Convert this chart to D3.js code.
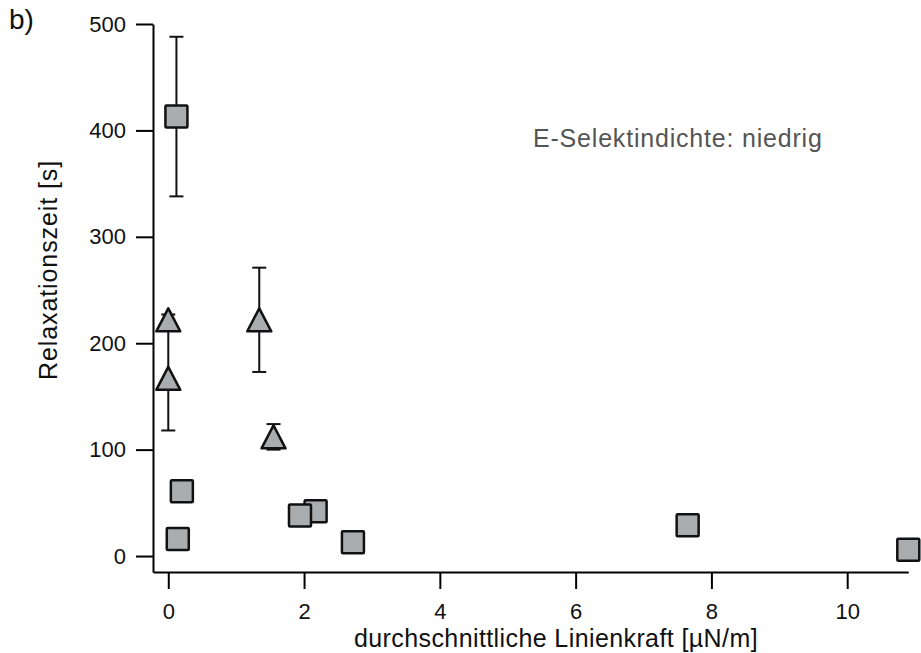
<!DOCTYPE html>
<html>
<head>
<meta charset="utf-8">
<script src="https://cdn.jsdelivr.net/npm/d3@7"></script>
<style>
  html, body { margin: 0; padding: 0; background: #fff; }
  svg { display: block; }
  text { font-family: "Liberation Sans", Arial, Helvetica, sans-serif; }
</style>
</head>
<body>
<svg id="chart" width="921" height="653"></svg>
<script>
// Relaxation time vs. mean line force, low E-selectin density
const xTicks = [0, 2, 4, 6, 8, 10];
const yTicks = [0, 100, 200, 300, 400, 500];

// Square series: force [µN/m], relaxation time [s], error (null = none)
const squareForce = [0.12, 0.20, 0.14, 2.17, 1.94, 2.72, 7.65, 10.9];
const squareTime  = [413, 61, 16, 42, 38, 13, 29, 6];
const squareErr   = [75, null, null, null, null, null, null, null];

// Triangle series
const triForce = [0.0, 0.0, 1.34, 1.55];
const triTime  = [222, 167, 222, 112];
const triErr   = [5, 49, 49, 12];

const xLabel = "durchschnittliche Linienkraft [µN/m]";
const yLabel = "Relaxationszeit [s]";
const note = "E-Selektindichte: niedrig";
const panel = "b)";

const svg = d3.select("#chart");
const fill = "#aaadaf";

const x = d3.scaleLinear().domain([-0.225, 10.9]).range([153, 908.3]);
const y = d3.scaleLinear().domain([-15, 500]).range([572, 24]);

// Axes
const gx = svg.append("g").attr("transform", "translate(0,572)")
  .call(d3.axisBottom(x).tickValues(xTicks).tickSize(17).tickSizeOuter(0).tickPadding(14));
const gy = svg.append("g").attr("transform", "translate(153,0)")
  .call(d3.axisLeft(y).tickValues(yTicks).tickSize(17).tickSizeOuter(0).tickPadding(10));

[gx, gy].forEach(g => {
  g.select(".domain").attr("stroke", "#000").attr("stroke-width", 2);
  g.selectAll(".tick line").attr("stroke", "#000").attr("stroke-width", 2);
  g.selectAll(".tick text").attr("fill", "#111").style("font-size", "22px");
});

// Error bars
function errorBars(xs, ys, es) {
  const g = svg.append("g").attr("stroke", "#111").attr("stroke-width", 2).attr("fill", "none");
  xs.forEach((xv, i) => {
    const e = es[i];
    if (e == null) return;
    const cx = x(xv), top = y(ys[i] + e), bot = y(ys[i] - e);
    g.append("line").attr("x1", cx).attr("x2", cx).attr("y1", top).attr("y2", bot);
    g.append("line").attr("x1", cx - 7).attr("x2", cx + 7).attr("y1", top).attr("y2", top);
    g.append("line").attr("x1", cx - 7).attr("x2", cx + 7).attr("y1", bot).attr("y2", bot);
  });
}

// Triangles
errorBars(triForce, triTime, triErr);
const tri = d3.range(triForce.length);
svg.append("g").selectAll("path").data(tri).join("path")
  .attr("d", i => {
    const cx = x(triForce[i]), cy = y(triTime[i]);
    return `M${cx},${cy - 11.5}L${cx + 12},${cy + 11.5}L${cx - 12},${cy + 11.5}Z`;
  })
  .attr("fill", fill).attr("stroke", "#111").attr("stroke-width", 2.5)
  .attr("stroke-linejoin", "round");

// Squares
errorBars(squareForce, squareTime, squareErr);
const sq = d3.range(squareForce.length);
svg.append("g").selectAll("rect").data(sq).join("rect")
  .attr("x", i => x(squareForce[i]) - 11)
  .attr("y", i => y(squareTime[i]) - 11)
  .attr("width", 22).attr("height", 22).attr("rx", 1)
  .attr("fill", fill).attr("stroke", "#111").attr("stroke-width", 2.5)
  .attr("stroke-linejoin", "round");

// Labels
svg.append("text").attr("x", 556).attr("y", 647).attr("text-anchor", "middle")
  .attr("fill", "#111").style("font-size", "25px").style("letter-spacing", "0.4px").text(xLabel);
svg.append("text").attr("transform", "translate(57,270) rotate(-90)")
  .attr("text-anchor", "middle").attr("fill", "#111").style("font-size", "25px")
  .style("letter-spacing", "0.9px").text(yLabel);
svg.append("text").attr("x", 533).attr("y", 147).attr("fill", "#555")
  .style("font-size", "25px").style("letter-spacing", "0.8px").text(note);
svg.append("text").attr("x", 9).attr("y", 29).attr("fill", "#111")
  .style("font-size", "28px").text(panel);
</script>
</body>
</html>
